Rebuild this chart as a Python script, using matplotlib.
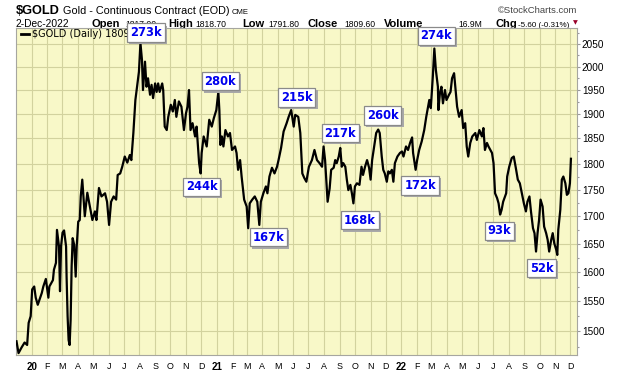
import pandas as pd
import matplotlib
matplotlib.use('Agg')
import matplotlib.pyplot as plt
import matplotlib.patheffects as pe
from matplotlib.ticker import FixedLocator, NullFormatter, FuncFormatter
from matplotlib.lines import Line2D

plt.rcParams['font.family'] = ['Liberation Sans', 'DejaVu Sans']

# #### Daily closes of $GOLD
dates = [
    '2019-12-02', '2019-12-06', '2019-12-12', '2019-12-18', '2019-12-23', '2019-12-26', '2019-12-30',
    '2020-01-02', '2020-01-06', '2020-01-09', '2020-01-13', '2020-01-21', '2020-01-24', '2020-01-29',
    '2020-02-03', '2020-02-05', '2020-02-12', '2020-02-14', '2020-02-18', '2020-02-20', '2020-02-24',
    '2020-02-26', '2020-02-28', '2020-03-02', '2020-03-05', '2020-03-09', '2020-03-10', '2020-03-12',
    '2020-03-14', '2020-03-16', '2020-03-18', '2020-03-20', '2020-03-22', '2020-03-25', '2020-03-28',
    '2020-03-30', '2020-04-02', '2020-04-05', '2020-04-07', '2020-04-10', '2020-04-15', '2020-04-20',
    '2020-04-25', '2020-04-30', '2020-05-05', '2020-05-08', '2020-05-13', '2020-05-18', '2020-05-25',
    '2020-05-29', '2020-06-02', '2020-06-06', '2020-06-11', '2020-06-16', '2020-06-19', '2020-06-24',
    '2020-06-28', '2020-07-03', '2020-07-08', '2020-07-13', '2020-07-16', '2020-07-20', '2020-07-24',
    '2020-07-29', '2020-07-31', '2020-08-03', '2020-08-06', '2020-08-08', '2020-08-12', '2020-08-15',
    '2020-08-18', '2020-08-22', '2020-08-25', '2020-08-28', '2020-09-01', '2020-09-04', '2020-09-07',
    '2020-09-10', '2020-09-15', '2020-09-17', '2020-09-20', '2020-09-24', '2020-09-27', '2020-10-02',
    '2020-10-06', '2020-10-10', '2020-10-13', '2020-10-18', '2020-10-23', '2020-10-28', '2020-11-01',
    '2020-11-04', '2020-11-07', '2020-11-10', '2020-11-14', '2020-11-19', '2020-11-22', '2020-11-27',
    '2020-11-30', '2020-12-02', '2020-12-06', '2020-12-12', '2020-12-17', '2020-12-22', '2020-12-26',
    '2020-12-31', '2021-01-04', '2021-01-06', '2021-01-08', '2021-01-11', '2021-01-14', '2021-01-18',
    '2021-01-23', '2021-01-27', '2021-01-31', '2021-02-06', '2021-02-09', '2021-02-12', '2021-02-16',
    '2021-02-19', '2021-02-24', '2021-03-01', '2021-03-04', '2021-03-07', '2021-03-12', '2021-03-17',
    '2021-03-22', '2021-03-26', '2021-03-29', '2021-04-03', '2021-04-08', '2021-04-11', '2021-04-15',
    '2021-04-20', '2021-04-25', '2021-04-30', '2021-05-03', '2021-05-08', '2021-05-13', '2021-05-19',
    '2021-05-23', '2021-05-28', '2021-06-02', '2021-06-05', '2021-06-11', '2021-06-15', '2021-06-19',
    '2021-06-23', '2021-06-27', '2021-07-02', '2021-07-08', '2021-07-13', '2021-07-18', '2021-07-23',
    '2021-07-28', '2021-07-31', '2021-08-03', '2021-08-08', '2021-08-12', '2021-08-15', '2021-08-20',
    '2021-08-23', '2021-08-26', '2021-08-30', '2021-09-02', '2021-09-05', '2021-09-08', '2021-09-12',
    '2021-09-15', '2021-09-18', '2021-09-22', '2021-09-25', '2021-09-28', '2021-10-01', '2021-10-05',
    '2021-10-10', '2021-10-14', '2021-10-17', '2021-10-21', '2021-10-25', '2021-10-29', '2021-11-01',
    '2021-11-04', '2021-11-08', '2021-11-12', '2021-11-16', '2021-11-19', '2021-11-23', '2021-11-26',
    '2021-11-29', '2021-12-03', '2021-12-06', '2021-12-09', '2021-12-13', '2021-12-16', '2021-12-19',
    '2021-12-24', '2021-12-29', '2022-01-02', '2022-01-05', '2022-01-10', '2022-01-14', '2022-01-18',
    '2022-01-22', '2022-01-24', '2022-01-29', '2022-02-01', '2022-02-05', '2022-02-10', '2022-02-15',
    '2022-02-19', '2022-02-22', '2022-02-25', '2022-02-28', '2022-03-04', '2022-03-07', '2022-03-10',
    '2022-03-14', '2022-03-15', '2022-03-18', '2022-03-21', '2022-03-24', '2022-03-28', '2022-03-31',
    '2022-04-05', '2022-04-08', '2022-04-11', '2022-04-15', '2022-04-18', '2022-04-21', '2022-04-25',
    '2022-04-30', '2022-05-03', '2022-05-07', '2022-05-10', '2022-05-13', '2022-05-17', '2022-05-21',
    '2022-05-27', '2022-05-30', '2022-06-04', '2022-06-09', '2022-06-12', '2022-06-15', '2022-06-19',
    '2022-06-22', '2022-06-29', '2022-07-02', '2022-07-05', '2022-07-09', '2022-07-12', '2022-07-15',
    '2022-07-18', '2022-07-21', '2022-07-27', '2022-07-29', '2022-08-02', '2022-08-07', '2022-08-11',
    '2022-08-15', '2022-08-19', '2022-08-23', '2022-08-27', '2022-08-31', '2022-09-04', '2022-09-07',
    '2022-09-11', '2022-09-14', '2022-09-18', '2022-09-21', '2022-09-24', '2022-09-27', '2022-09-30',
    '2022-10-03', '2022-10-07', '2022-10-10', '2022-10-14', '2022-10-17', '2022-10-20', '2022-10-24',
    '2022-10-27', '2022-10-30', '2022-11-03', '2022-11-05', '2022-11-07', '2022-11-11', '2022-11-14',
    '2022-11-17', '2022-11-21', '2022-11-24', '2022-11-27', '2022-11-30', '2022-12-02',
]
closes = [
    1484, 1465, 1474, 1482, 1478, 1514, 1525,
    1570, 1575, 1556, 1544, 1564, 1575, 1588,
    1556, 1575, 1586, 1604, 1616, 1675, 1645,
    1567, 1645, 1670, 1674, 1645, 1592, 1525,
    1486, 1478, 1519, 1610, 1660, 1648, 1592,
    1645, 1690, 1693, 1737, 1769, 1700, 1744,
    1718, 1693, 1709, 1693, 1753, 1737, 1743,
    1727, 1684, 1727, 1737, 1731, 1778, 1781,
    1794, 1814, 1802, 1817, 1807, 1861, 1929,
    1972, 1989, 2052, 2015, 1950, 2011, 1957,
    1975, 1940, 1961, 1933, 1964, 1946, 1964,
    1946, 1964, 1950, 1874, 1867, 1894, 1919,
    1905, 1929, 1894, 1926, 1915, 1867, 1901,
    1915, 1950, 1867, 1881, 1854, 1874, 1801,
    1781, 1821, 1854, 1834, 1888, 1874, 1891,
    1908, 1946, 1908, 1837, 1854, 1834, 1867,
    1854, 1861, 1827, 1834, 1821, 1788, 1807,
    1775, 1731, 1718, 1678, 1724, 1731, 1737,
    1727, 1684, 1727, 1743, 1756, 1743, 1775,
    1792, 1781, 1794, 1807, 1831, 1864, 1881,
    1894, 1908, 1874, 1898, 1894, 1861, 1781,
    1772, 1765, 1794, 1807, 1827, 1807, 1801,
    1794, 1834, 1807, 1727, 1752, 1788, 1792,
    1807, 1801, 1814, 1831, 1794, 1801, 1794,
    1769, 1749, 1759, 1743, 1724, 1756, 1762,
    1759, 1794, 1778, 1794, 1807, 1792, 1769,
    1807, 1834, 1861, 1868, 1861, 1814, 1788,
    1781, 1765, 1785, 1781, 1788, 1765, 1801,
    1814, 1821, 1824, 1814, 1834, 1827, 1841,
    1852, 1821, 1788, 1807, 1827, 1844, 1867,
    1894, 1912, 1929, 1912, 1979, 2040, 1993,
    1957, 1908, 1943, 1957, 1922, 1950, 1929,
    1940, 1946, 1975, 1986, 1950, 1915, 1894,
    1908, 1871, 1881, 1834, 1814, 1841, 1854,
    1861, 1847, 1867, 1854, 1871, 1827, 1841,
    1834, 1821, 1801, 1743, 1734, 1724, 1703,
    1712, 1727, 1743, 1775, 1794, 1811, 1814,
    1792, 1769, 1762, 1743, 1724, 1709, 1727,
    1737, 1709, 1678, 1669, 1636, 1669, 1693,
    1731, 1718, 1681, 1669, 1657, 1636, 1657,
    1669, 1651, 1639, 1630, 1675, 1712, 1769,
    1775, 1762, 1740, 1743, 1762, 1809.6,
]

# Volume notes written on the chart (box centres)
vol_labels = ['273k', '244k', '280k', '167k', '215k', '217k', '168k', '260k', '172k', '274k', '93k', '52k']
vol_dates = ['2020-08-14', '2020-12-02', '2021-01-08', '2021-04-13', '2021-06-08', '2021-09-02',
             '2021-10-11', '2021-11-25', '2022-02-07', '2022-03-11', '2022-07-14', '2022-10-05']
vol_prices = [2075, 1755, 1969, 1662, 1934, 1861, 1693, 1897, 1758, 2068, 1673, 1607]

# Axis ticks
price_ticks = list(range(1500, 2051, 50))
month_starts = pd.date_range('2020-01-01', '2022-12-01', freq='MS')
month_letters = ['J', 'F', 'M', 'A', 'M', 'J', 'J', 'A', 'S', 'O', 'N', 'D']

W, H = 620, 376
def fx(x):
    return x / W
def fy(y):
    return 1 - y / H

bg = '#f8f8c8'
grid_c = '#d2d29e'

fig = plt.figure(figsize=(6.2, 3.76), dpi=100)
fig.patch.set_facecolor('white')
ax = fig.add_axes([fx(16), fy(355), (577 - 16) / W, (355 - 28) / H])
ax.set_facecolor(bg)

x = pd.to_datetime(dates)
ax.plot(x, closes, color='black', linewidth=1.6, zorder=3, solid_joinstyle='round')

ax.set_yscale('log')
ax.set_ylim(1462, 2086)
ax.set_xlim(pd.Timestamp('2019-12-01'), pd.Timestamp('2022-12-14'))

# price axis on the right
ax.yaxis.tick_right()
ax.yaxis.set_major_locator(FixedLocator(price_ticks))
ax.yaxis.set_major_formatter(FuncFormatter(lambda v, p: f'{v:.0f}'))
ax.yaxis.set_minor_locator(FixedLocator([p + 25 for p in range(1450, 2051, 50)]))
ax.yaxis.set_minor_formatter(NullFormatter())
ax.tick_params(axis='y', which='major', length=2.5, width=0.8, color='#999999', pad=1, labelsize=7.2)
ax.tick_params(axis='y', which='minor', length=1.5, width=0.8, color='#999999')

# months along the bottom
labels = []
for d in month_starts:
    labels.append(f'{d.year % 100:02d}' if d.month == 1 else month_letters[d.month - 1])
ax.set_xticks(month_starts)
ax.set_xticklabels(labels)
ax.xaxis.set_minor_locator(FixedLocator([]))
ax.tick_params(axis='x', length=0, pad=5, labelsize=6.4)
for lab, d in zip(ax.get_xticklabels(), month_starts):
    if d.month == 1:
        lab.set_fontweight('bold')
        lab.set_fontsize(7)

ax.grid(True, which='major', color=grid_c, linewidth=0.8, zorder=0)
ax.set_axisbelow(True)
for s in ax.spines.values():
    s.set_color('#a6a6a0')
    s.set_linewidth(0.8)

# legend entry at top-left
ax.add_line(Line2D([fx(21), fx(29)], [fy(34), fy(34)], transform=fig.transFigure,
                   color='black', linewidth=2, zorder=5))
ax.text(fx(32), fy(34), '$GOLD (Daily) 1809.60', transform=fig.transFigure, family='DejaVu Sans',
        fontsize=7, va='center', ha='left', zorder=5)

# volume boxes with a grey drop shadow
shadow = [pe.SimplePatchShadow(offset=(1.5, -1.5), shadow_rgbFace='#a8a8a8', alpha=1.0), pe.Normal()]
for lbl, d, p in zip(vol_labels, vol_dates, vol_prices):
    t = ax.annotate(lbl, (pd.Timestamp(d), p), ha='center', va='center', fontsize=8.3,
                    fontweight='bold', family='DejaVu Sans', color='#0000ee',
                    annotation_clip=False, zorder=10,
                    bbox=dict(boxstyle='square,pad=0.25', fc='white', ec='#8a8a8a', lw=0.9))
    t.get_bbox_patch().set_path_effects(shadow)

# header lines (drawn under the axes so the boxes can overlap them)
def head(xp, yp, s, **kw):
    fig.text(fx(xp), fy(yp), s, va='baseline', zorder=-1, **kw)

head(16, 14, '$GOLD', fontsize=9.2, fontweight='bold')
head(63, 14, 'Gold - Continuous Contract (EOD)', fontsize=7.8)
head(232, 14, 'CME', fontsize=5.5)
fig.text(fx(577), fy(13), '\u00a9StockCharts.com', ha='right', va='baseline', fontsize=6.8,
         color='#444444', zorder=-1)

head(16, 27, '2-Dec-2022', fontsize=7.4)
info_labels = ['Open', 'High', 'Low', 'Close', 'Volume', 'Chg']
info_values = ['1817.00', '1818.70', '1791.80', '1809.60', '16.9M', '-5.60 (-0.31%)']
info_sizes = [6.2, 6.2, 6.2, 6.2, 6.2, 5.8]
label_x = [92, 168, 242, 307, 384, 495]
value_x = [125, 195, 268, 344, 458, 518]
for lab, val, sz, lx, vx in zip(info_labels, info_values, info_sizes, label_x, value_x):
    head(lx, 27, lab, fontsize=8, fontweight='bold')
    head(vx, 27, val, fontsize=sz)
fig.text(fx(575), fy(23), '\u25bc', ha='center', va='center', fontsize=4.5, color='#99002a',
         family='DejaVu Sans', zorder=-1)

plt.savefig('out.png', dpi=100, facecolor='white')
